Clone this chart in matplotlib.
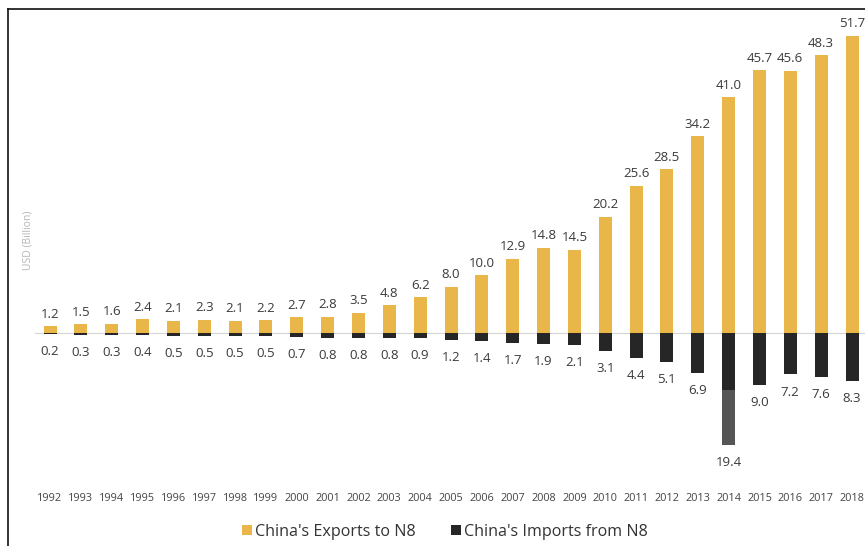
import matplotlib
matplotlib.use("Agg")
import matplotlib.pyplot as plt
from matplotlib.lines import Line2D
from matplotlib.patches import Patch

years = [str(y) for y in range(1992, 2019)]
exports = [1.2, 1.5, 1.6, 2.4, 2.1, 2.3, 2.1, 2.2, 2.7, 2.8, 3.5, 4.8, 6.2, 8.0,
           10.0, 12.9, 14.8, 14.5, 20.2, 25.6, 28.5, 34.2, 41.0, 45.7, 45.6, 48.3, 51.7]
imports = [0.2, 0.3, 0.3, 0.4, 0.5, 0.5, 0.5, 0.5, 0.7, 0.8, 0.8, 0.8, 0.9, 1.2,
           1.4, 1.7, 1.9, 2.1, 3.1, 4.4, 5.1, 6.9, 19.4, 9.0, 7.2, 7.6, 8.3]
# 2014 import bar: dark lower part up to this value, remainder shown in grey
split_2014 = 9.9

plt.rcParams['font.family'] = ['Open Sans', 'DejaVu Sans']

W, H = 865, 546
fig = plt.figure(figsize=(W / 100, H / 100), dpi=100)

# axes placement in pixels
ax_left, ax_right, ax_top, ax_bottom = 8, 865, 9, 485
ax = fig.add_axes([ax_left / W, 1 - ax_bottom / H, (ax_right - ax_left) / W, (ax_bottom - ax_top) / H])

x0_px, x1_px = 50, 852
pxu = (x1_px - x0_px) / 26
ax.set_xlim(-(x0_px - ax_left) / pxu, 26 + (ax_right - x1_px) / pxu)
zero_px = 333
pyu = 5.75
ax.set_ylim(-(ax_bottom - zero_px) / pyu, (zero_px - ax_top) / pyu)

yellow = '#E9B649'
dark = '#262626'
grey = '#555555'
bw = 13 / pxu
idx = list(range(len(years)))

ax.bar(idx, exports, width=bw, color=yellow, zorder=2)
imp_dark = [min(v, split_2014) if years[i] == '2014' else v for i, v in enumerate(imports)]
ax.bar(idx, [-v for v in imp_dark], width=bw, color=dark, zorder=2)
i14 = years.index('2014')
ax.bar([i14], [-(imports[i14] - split_2014)], bottom=[-split_2014], width=bw, color=grey, zorder=2)

ax.axhline(0, color='#d5d5d5', lw=0.8, zorder=1, xmin=(35 - ax_left) / (ax_right - ax_left))

for i in idx:
    ax.annotate(f"{exports[i]:.1f}", (i, exports[i]), xytext=(0, 4), textcoords='offset points',
                ha='center', va='bottom', fontsize=9.5, color='#3a3a3a')
    ax.annotate(f"{imports[i]:.1f}", (i, -imports[i]), xytext=(0, -8), textcoords='offset points',
                ha='center', va='top', fontsize=9.5, color='#3a3a3a')

ax.set_xticks(idx)
ax.set_xticklabels(years, fontsize=7.8, color='#444444')
ax.tick_params(axis='x', length=0, pad=6)
ax.set_yticks([])
for s in ax.spines.values():
    s.set_visible(False)

fig.text(28 / W, 1 - 240 / H, 'USD (Billion)', rotation=90, ha='center', va='center',
         fontsize=7.5, color='#b5b5b5')

# frame lines (left and top)
fig.add_artist(Line2D([8 / W, 8 / W], [0, 1 - 9 / H], color='#111111', lw=1.2))
fig.add_artist(Line2D([8 / W, 1], [1 - 9 / H, 1 - 9 / H], color='#111111', lw=1.2))

handles = [Patch(facecolor=yellow, label="China's Exports to N8"),
           Patch(facecolor=dark, label="China's Imports from N8")]
fig.legend(handles=handles, loc='center', bbox_to_anchor=(445 / W, 1 - 532 / H), ncol=2,
           frameon=False, fontsize=11.6, handlelength=0.6, handleheight=0.6, handletextpad=0.2,
           columnspacing=2.2, labelcolor='#333333')

fig.savefig('out.png', dpi=100)
